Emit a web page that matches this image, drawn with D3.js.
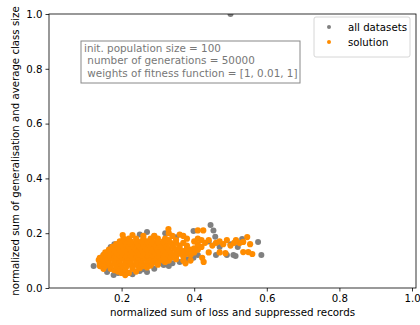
<!DOCTYPE html>
<html>
<head>
<meta charset="utf-8">
<script src="https://cdn.jsdelivr.net/npm/d3@7"></script>
<style>
  body { margin: 0; background: #fff; }
  text { font-family: "DejaVu Sans", sans-serif; }
</style>
</head>
<body>
<div id="chart"></div>
<script>
// tick labels
const xTicks = [0.2, 0.4, 0.6, 0.8, 1.0];
const yTicks = [0.0, 0.2, 0.4, 0.6, 0.8, 1.0];
const legendLabels = ["all datasets", "solution"];
const infoLines = [
  "init. population size = 100",
  " number of generations = 50000",
  " weights of fitness function = [1, 0.01, 1]"
];

// "all datasets" points (grey)
const allDatasets = [
  [0.5, 1.0],
  [0.123, 0.080], [0.156, 0.073], [0.160, 0.058], [0.178, 0.047], [0.19, 0.055],
  [0.17, 0.15], [0.16, 0.13], [0.18, 0.16], [0.15, 0.12], [0.145, 0.09],
  [0.27, 0.204], [0.25, 0.195], [0.29, 0.19], [0.27, 0.058], [0.25, 0.062],
  [0.23, 0.05], [0.21, 0.052], [0.29, 0.07], [0.316, 0.084], [0.33, 0.08],
  [0.36, 0.095], [0.38, 0.105], [0.398, 0.11], [0.41, 0.12],
  [0.398, 0.208], [0.445, 0.23], [0.453, 0.21], [0.458, 0.187], [0.44, 0.17],
  [0.47, 0.15], [0.49, 0.12], [0.508, 0.12], [0.514, 0.117],
  [0.532, 0.179], [0.576, 0.168], [0.585, 0.12], [0.50, 0.16], [0.52, 0.15],
  [0.35, 0.185], [0.32, 0.2], [0.46, 0.12],
  [0.34, 0.09], [0.31, 0.09], [0.26, 0.068], [0.2, 0.062]
];

// "solution" points (orange)
const solution = [
  [0.19, 0.06], [0.20, 0.055], [0.21, 0.047], [0.22, 0.055], [0.24, 0.06],
  [0.15, 0.07], [0.17, 0.07], [0.18, 0.065], [0.195, 0.07], [0.21, 0.068], [0.23, 0.07], [0.25, 0.072], [0.27, 0.075],
  [0.14, 0.08], [0.155, 0.08], [0.17, 0.08], [0.185, 0.08], [0.20, 0.08], [0.215, 0.08], [0.23, 0.08], [0.245, 0.08], [0.26, 0.08], [0.28, 0.082], [0.30, 0.085],
  [0.14, 0.09], [0.15, 0.09], [0.165, 0.09], [0.18, 0.09], [0.195, 0.09], [0.21, 0.09], [0.225, 0.09], [0.24, 0.09], [0.255, 0.09], [0.27, 0.09], [0.285, 0.09], [0.30, 0.095], [0.32, 0.095], [0.376, 0.09], [0.426, 0.095],
  [0.137, 0.102], [0.15, 0.10], [0.165, 0.10], [0.18, 0.10], [0.195, 0.10], [0.21, 0.10], [0.225, 0.10], [0.24, 0.10], [0.255, 0.10], [0.27, 0.10], [0.285, 0.10], [0.30, 0.10], [0.315, 0.10], [0.33, 0.10], [0.35, 0.105], [0.37, 0.10], [0.39, 0.10],
  [0.14, 0.11], [0.155, 0.11], [0.17, 0.11], [0.185, 0.11], [0.20, 0.11], [0.215, 0.11], [0.23, 0.11], [0.245, 0.11], [0.26, 0.11], [0.275, 0.11], [0.29, 0.11], [0.305, 0.11], [0.32, 0.11], [0.335, 0.11], [0.35, 0.115], [0.37, 0.115], [0.39, 0.12], [0.422, 0.11],
  [0.15, 0.12], [0.165, 0.12], [0.18, 0.12], [0.195, 0.12], [0.21, 0.12], [0.225, 0.12], [0.24, 0.12], [0.255, 0.12], [0.27, 0.12], [0.285, 0.12], [0.30, 0.12], [0.315, 0.12], [0.33, 0.12], [0.345, 0.12], [0.36, 0.125], [0.38, 0.125], [0.40, 0.13], [0.486, 0.127],
  [0.155, 0.13], [0.17, 0.13], [0.185, 0.13], [0.20, 0.13], [0.215, 0.13], [0.23, 0.13], [0.245, 0.13], [0.26, 0.13], [0.275, 0.13], [0.29, 0.13], [0.305, 0.13], [0.32, 0.13], [0.335, 0.13], [0.35, 0.135], [0.37, 0.135], [0.39, 0.14], [0.41, 0.14], [0.44, 0.13], [0.47, 0.13],
  [0.165, 0.14], [0.18, 0.14], [0.195, 0.14], [0.21, 0.14], [0.225, 0.14], [0.24, 0.14], [0.255, 0.14], [0.27, 0.14], [0.285, 0.14], [0.30, 0.14], [0.315, 0.14], [0.33, 0.14], [0.345, 0.145], [0.36, 0.145], [0.38, 0.145], [0.40, 0.145], [0.42, 0.15], [0.45, 0.155], [0.48, 0.16], [0.50, 0.155],
  [0.175, 0.15], [0.19, 0.15], [0.205, 0.15], [0.22, 0.15], [0.235, 0.15], [0.25, 0.15], [0.265, 0.15], [0.28, 0.15], [0.295, 0.15], [0.31, 0.15], [0.325, 0.15], [0.34, 0.155], [0.36, 0.155], [0.38, 0.155], [0.41, 0.16], [0.43, 0.165], [0.46, 0.165], [0.49, 0.175],
  [0.185, 0.16], [0.20, 0.16], [0.215, 0.16], [0.23, 0.16], [0.245, 0.16], [0.26, 0.16], [0.275, 0.16], [0.29, 0.16], [0.305, 0.16], [0.32, 0.16], [0.335, 0.165], [0.35, 0.165], [0.37, 0.165], [0.40, 0.17], [0.42, 0.175], [0.44, 0.175], [0.47, 0.17],
  [0.195, 0.17], [0.21, 0.17], [0.225, 0.17], [0.24, 0.17], [0.255, 0.17], [0.27, 0.17], [0.285, 0.17], [0.30, 0.17], [0.315, 0.17], [0.33, 0.175], [0.35, 0.175], [0.38, 0.18], [0.41, 0.18],
  [0.205, 0.18], [0.22, 0.18], [0.24, 0.18], [0.26, 0.18], [0.28, 0.18], [0.30, 0.18], [0.32, 0.18], [0.34, 0.19], [0.37, 0.19],
  [0.203, 0.193], [0.23, 0.193], [0.26, 0.19], [0.29, 0.19], [0.33, 0.2], [0.36, 0.195],
  [0.329, 0.215], [0.41, 0.21], [0.425, 0.21],
  [0.525, 0.164], [0.535, 0.168], [0.546, 0.186], [0.554, 0.16], [0.535, 0.131], [0.549, 0.131], [0.56, 0.124],
  [0.51, 0.165], [0.515, 0.175]
];

const width = 420;
const height = 325;
const margin = {top: 14, right: 4, bottom: 37, left: 49};

const svg = d3.select("#chart").append("svg")
  .attr("width", width)
  .attr("height", height)
  .attr("viewBox", [0, 0, width, height]);

const x = d3.scaleLinear()
  .domain([0, 1.011])
  .range([margin.left, width - margin.right]);

const y = d3.scaleLinear()
  .domain([0, 1])
  .range([height - margin.bottom, margin.top]);

svg.append("clipPath").attr("id", "plot-area")
  .append("rect")
  .attr("x", margin.left).attr("y", margin.top)
  .attr("width", width - margin.left - margin.right)
  .attr("height", height - margin.top - margin.bottom);

const dots = svg.append("g").attr("clip-path", "url(#plot-area)");

dots.selectAll("circle.all")
  .data(allDatasets)
  .join("circle")
  .attr("class", "all")
  .attr("cx", d => x(d[0]))
  .attr("cy", d => y(d[1]))
  .attr("r", 3)
  .attr("fill", "grey");

dots.selectAll("circle.sol")
  .data(solution)
  .join("circle")
  .attr("class", "sol")
  .attr("cx", d => x(d[0]))
  .attr("cy", d => y(d[1]))
  .attr("r", 3.1)
  .attr("fill", "darkorange");

// axes
const xAxis = svg.append("g")
  .attr("transform", `translate(0,${height - margin.bottom})`)
  .call(d3.axisBottom(x).tickValues(xTicks).tickFormat(d3.format(".1f")).tickSize(3.5).tickSizeOuter(0));

const yAxis = svg.append("g")
  .attr("transform", `translate(${margin.left},0)`)
  .call(d3.axisLeft(y).tickValues(yTicks).tickFormat(d3.format(".1f")).tickSize(3.5).tickSizeOuter(0));

[xAxis, yAxis].forEach(a => {
  a.selectAll("text").attr("font-size", 10.2).attr("fill", "#000").attr("font-family", "DejaVu Sans");
  a.selectAll("line").attr("stroke", "#000").attr("stroke-width", 0.8);
  a.select(".domain").remove();
});

// frame
svg.append("rect")
  .attr("x", margin.left).attr("y", margin.top)
  .attr("width", width - margin.left - margin.right)
  .attr("height", height - margin.top - margin.bottom)
  .attr("fill", "none")
  .attr("stroke", "#000")
  .attr("stroke-width", 0.8);

// axis labels
svg.append("text")
  .attr("x", (margin.left + width - margin.right) / 2)
  .attr("y", 316)
  .attr("text-anchor", "middle")
  .attr("font-size", 10.3)
  .text("normalized sum of loss and suppressed records");

svg.append("text")
  .attr("transform", `translate(19,${(margin.top + height - margin.bottom) / 2}) rotate(-90)`)
  .attr("text-anchor", "middle")
  .attr("font-size", 10.2)
  .text("normalized sum of generalisation and average class size");

// info box
const info = svg.append("g").attr("transform", "translate(81,41)");
info.append("rect")
  .attr("width", 219).attr("height", 42)
  .attr("fill", "#fff")
  .attr("stroke", "#888")
  .attr("stroke-width", 1);
info.selectAll("text")
  .data(infoLines)
  .join("text")
  .attr("x", 3)
  .attr("y", (d, i) => 11 + i * 12.3)
  .attr("font-size", 10.4)
  .attr("fill", "#777")
  .attr("xml:space", "preserve")
  .style("white-space", "pre")
  .text(d => d);

// legend
const legend = svg.append("g").attr("transform", "translate(314,17)");
legend.append("rect")
  .attr("width", 96).attr("height", 40)
  .attr("rx", 2)
  .attr("fill", "#fff")
  .attr("fill-opacity", 0.8)
  .attr("stroke", "#ccc")
  .attr("stroke-width", 0.8);
const legendColors = ["grey", "darkorange"];
legendLabels.forEach((label, i) => {
  legend.append("circle")
    .attr("cx", 15).attr("cy", 10 + i * 15)
    .attr("r", 2)
    .attr("fill", legendColors[i]);
  legend.append("text")
    .attr("x", 34).attr("y", 13.5 + i * 15)
    .attr("font-size", 10.2)
    .attr("fill", "#000")
    .text(label);
});
</script>
</body>
</html>
